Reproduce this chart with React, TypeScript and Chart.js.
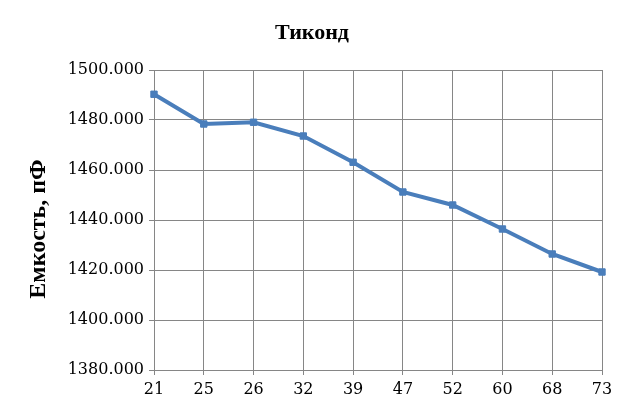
import { useEffect, useRef } from "react";
import { Chart, registerables } from "chart.js";
import type { ChartConfiguration } from "chart.js";

Chart.register(...registerables);

const categories = ["21", "25", "26", "32", "39", "47", "52", "60", "68", "73"];
const capacitance = [
  1490.3, 1478.4, 1479.1, 1473.6, 1463.1, 1451.2, 1446.0, 1436.4, 1426.4, 1419.2,
];
const yMin = 1380;
const yMax = 1500;
const yStep = 20;

const gridColor = "#868686";
const lineColor = "#4a7ebb";

export default function App() {
  const canvasRef = useRef<HTMLCanvasElement>(null);
  const chartRef = useRef<Chart | null>(null);

  useEffect(() => {
    document.body.style.margin = "0";
    if (!canvasRef.current) return;
    if (chartRef.current) chartRef.current.destroy();

    const config: ChartConfiguration = {
      type: "line",
      data: {
        labels: categories,
        datasets: [
          {
            label: "Тиконд",
            data: capacitance,
            borderColor: lineColor,
            backgroundColor: lineColor,
            borderWidth: 4,
            pointStyle: "rect",
            pointRadius: 4.5,
            pointBorderWidth: 1,
            tension: 0,
            yAxisID: "y",
          },
        ],
      },
      options: {
        animation: false,
        responsive: true,
        maintainAspectRatio: false,
        // symmetric padding keeps the title centred on the page
        layout: { padding: { left: 11, right: 11, top: 0, bottom: 0 } },
        plugins: {
          legend: { display: false },
          tooltip: { enabled: false },
          title: {
            display: true,
            text: "Тиконд",
            color: "#000",
            font: { family: "Liberation Serif", size: 22, weight: "bold" },
            padding: { top: 20, bottom: 23.6 },
          },
        },
        scales: {
          x: {
            offset: false,
            grid: { color: gridColor, lineWidth: 1, tickLength: 5, tickColor: gridColor },
            border: { color: gridColor },
            ticks: {
              color: "#000",
              padding: 5,
              maxRotation: 0,
              autoSkip: false,
              font: { family: "DejaVu Serif", size: 16 },
            },
            afterFit: (scale) => {
              scale.height = 39;
            },
          },
          y: {
            min: yMin,
            max: yMax,
            grid: { color: gridColor, lineWidth: 1, tickLength: 5, tickColor: gridColor },
            border: { color: gridColor },
            ticks: {
              stepSize: yStep,
              color: "#000",
              padding: 5,
              font: { family: "DejaVu Serif", size: 16 },
              callback: (v) => Number(v).toFixed(3),
            },
            title: {
              display: true,
              text: "Емкость, пФ   ",
              color: "#000",
              font: { family: "Liberation Serif", size: 24, weight: "bold" },
              padding: { top: 13.6, bottom: 0 },
            },
            afterFit: (scale) => {
              scale.width = 143;
            },
          },
          // empty right-hand spacer so the plot ends where the reference does
          y2: {
            position: "right",
            min: yMin,
            max: yMax,
            grid: { display: false },
            border: { display: false },
            ticks: { display: false },
            afterFit: (scale) => {
              scale.width = 11;
            },
          },
        },
      },
    };

    chartRef.current = new Chart(canvasRef.current, config);

    return () => {
      if (chartRef.current) {
        chartRef.current.destroy();
        chartRef.current = null;
      }
    };
  }, []);

  return (
    <div style={{ width: 624, height: 409, position: "relative" }}>
      <canvas ref={canvasRef}></canvas>
    </div>
  );
}
